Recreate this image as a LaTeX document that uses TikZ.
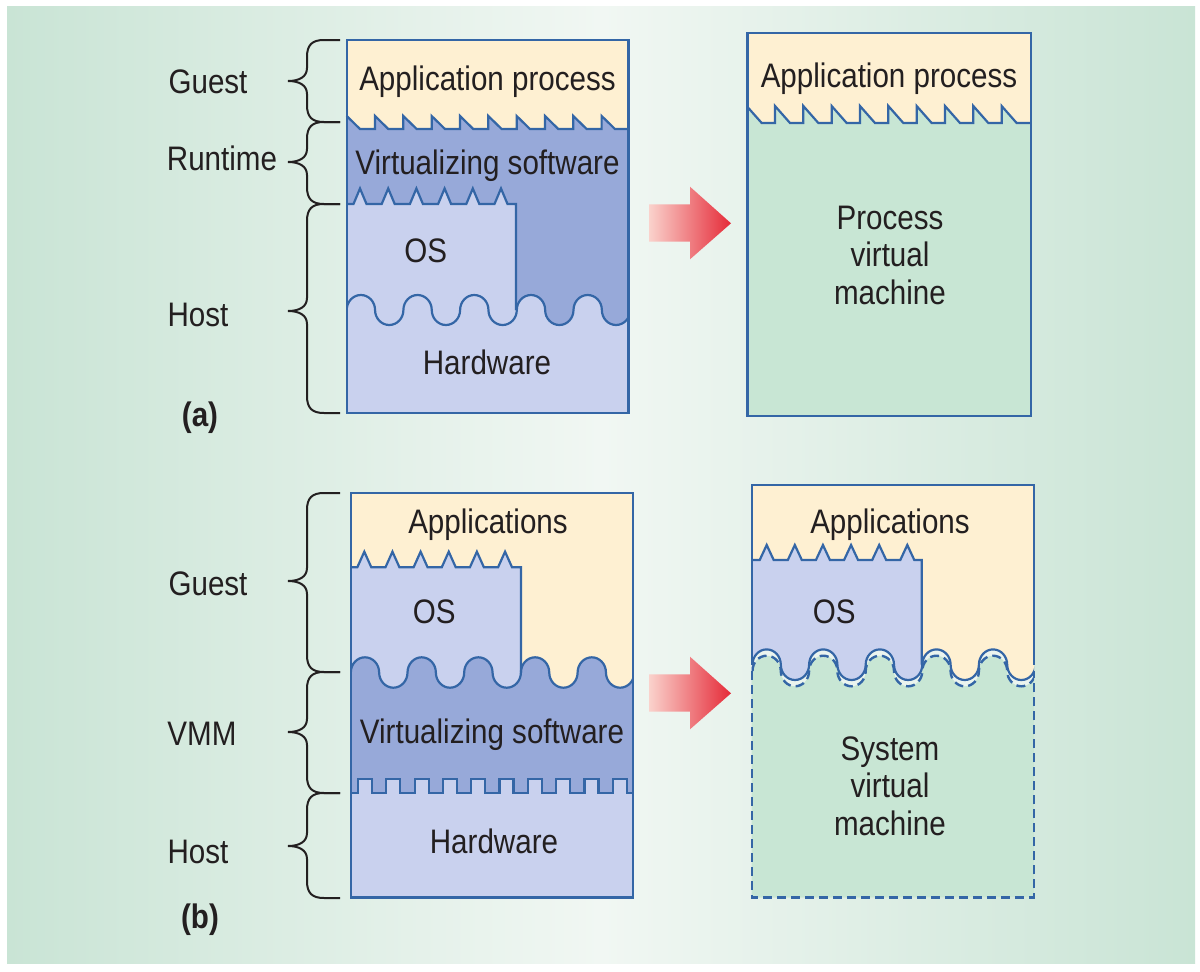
\documentclass[tikz,border=0pt]{standalone}
\usepackage{fontspec}
\setmainfont{Liberation Sans}[FakeStretch=0.87]
\definecolor{bgside}{HTML}{C9E4D5}
\definecolor{bgmid}{HTML}{F1F7F3}
\definecolor{appy}{HTML}{FEF0D2}
\definecolor{vdark}{HTML}{97A9D9}
\definecolor{vlight}{HTML}{C9D1EE}
\definecolor{vmgreen}{HTML}{C8E6D4}
\definecolor{edge}{HTML}{3466A6}
\definecolor{ink}{HTML}{231F20}
\definecolor{arrpink}{HTML}{FAD2CC}
\definecolor{arrred}{HTML}{E52A38}
\definecolor{gapc}{HTML}{EBF4EF}
% tooth helpers
\newcommand\zigteeth[5]{\foreach \k in {0,...,5}{ -- ({#1+#2*\k-#3},#4) -- ({#1+#2*\k},#5) -- ({#1+#2*\k+#3},#4) }}
\newcommand\sawteeth[6]{\foreach \k in {0,...,#6}{ -- ({#1+#2*\k},#4) -- ({#1+#2*\k},#5) -- ({#1+#2*\k+#3},#4) }}
\newcommand\sqteeth[6]{\foreach \k in {0,...,#6}{ -- ({#1+#2*\k},#4) -- ({#1+#2*\k},#5) -- ({#1+#2*\k+#3},#5) -- ({#1+#2*\k+#3},#4) }}
\newcommand\wavepath[5]{\foreach \k in {0,...,#5}{
 .. controls ({#1+4*#3*\k},{#2-0.5523*#4}) and ({#1+4*#3*\k+0.4477*#3},{#2-#4}) .. ({#1+4*#3*\k+#3},{#2-#4})
 .. controls ({#1+4*#3*\k+1.5523*#3},{#2-#4}) and ({#1+4*#3*\k+2*#3},{#2-0.5523*#4}) .. ({#1+4*#3*\k+2*#3},#2)
 .. controls ({#1+4*#3*\k+2*#3},{#2+0.5523*#4}) and ({#1+4*#3*\k+2.4477*#3},{#2+#4}) .. ({#1+4*#3*\k+3*#3},{#2+#4})
 .. controls ({#1+4*#3*\k+3.5523*#3},{#2+#4}) and ({#1+4*#3*\k+4*#3},{#2+0.5523*#4}) .. ({#1+4*#3*\k+4*#3},#2) }}
\newcommand\brc[3]{(340,#1) -- (324,#1) .. controls (312,#1) and (307,{#1+5}) .. (307,{#1+17}) -- (307,{#3-13}) .. controls (307,{#3-4}) and (299,#3) .. (288,#3) .. controls (299,#3) and (307,{#3+4}) .. (307,{#3+13}) -- (307,{#2-17}) .. controls (307,{#2-5}) and (312,#2) .. (324,#2) -- (340,#2)}
\begin{document}
\begin{tikzpicture}[x=1pt,y=-1pt,
  ln/.style={draw=edge,line width=2.2pt,line join=miter},
  dashln/.style={draw=edge,line width=2.4pt,dash pattern=on 9pt off 5pt},
  bracel/.style={draw=ink,line width=2pt},
  txt/.style={font=\fontsize{34}{40}\selectfont,text=ink,inner sep=0pt,anchor=base},
  lbl/.style={font=\bfseries\fontsize{34}{40}\selectfont,text=ink,inner sep=0pt,anchor=base},
  redarrow/.style={left color=arrpink,right color=arrred}]
\useasboundingbox (0,0) rectangle (1200,972);
\fill[white] (0,0) rectangle (1200,972);
\shade[left color=bgside,right color=bgside,middle color=bgmid] (7,6) rectangle (1195,963);

% ===== panel (a), left box =====
\begin{scope}
\clip (346.7,40) rectangle (628.5,413);
\fill[vdark] (346.7,40) rectangle (628.5,413);
\fill[vlight] (346.7,204) \zigteeth{360}{28.2}{6.5}{204}{188.5} -- (516,204) -- (516,340) -- (346.7,340) -- cycle;
\fill[vlight] (346.7,310) \wavepath{346.7}{310}{14.175}{15}{4} -- (631,413) -- (346.7,413) -- cycle;
\fill[appy] (346.7,40) -- (346.7,116) -- (360,129) \sawteeth{375}{28.33}{13.3}{129}{116}{8} -- (628.5,129) -- (628.5,40) -- cycle;
\draw[ln] (346.7,310) \wavepath{346.7}{310}{14.175}{15}{4};
\end{scope}
\draw[ln] (346.7,116) -- (360,129) \sawteeth{375}{28.33}{13.3}{129}{116}{8} -- (628.5,129);
\draw[ln] (346.7,204) \zigteeth{360}{28.2}{6.5}{204}{188.5} -- (516,204) -- (516,310);
\draw[ln] (346.7,40) rectangle (628.5,413);

% ===== panel (a), right box =====
\fill[vmgreen] (747.5,33) rectangle (1031,416);
\fill[appy] (747.5,33) -- (747.5,107) -- (761.7,123) \sawteeth{775}{28.33}{15}{123}{106}{8} -- (1031,123) -- (1031,33) -- cycle;
\draw[ln] (747.5,107) -- (761.7,123) \sawteeth{775}{28.33}{15}{123}{106}{8} -- (1031,123);
\draw[ln] (747.5,33) rectangle (1031,416);

% ===== panel (b), left box =====
\begin{scope}
\clip (350.8,493) rectangle (632.7,897.5);
\fill[appy] (350.8,493) rectangle (632.7,897.5);
\fill[vlight] (350.8,567.3) \zigteeth{364.3}{28.15}{7}{567.3}{551.7} -- (521,567.3) -- (521,700) -- (350.8,700) -- cycle;
\fill[vdark] (350.8,672.5) \wavepath{350.8}{672.5}{14.175}{15.2}{4} -- (635,897.5) -- (350.8,897.5) -- cycle;
\fill[vlight] (350.8,793) \sqteeth{358}{28.3}{14}{793}{779}{9} -- (632.7,793) -- (632.7,897.5) -- (350.8,897.5) -- cycle;
\draw[ln] (350.8,672.5) \wavepath{350.8}{672.5}{14.175}{15.2}{4};
\end{scope}
\draw[ln] (350.8,567.3) \zigteeth{364.3}{28.15}{7}{567.3}{551.7} -- (521,567.3) -- (521,672.5);
\draw[ln] (350.8,793) \sqteeth{358}{28.3}{14}{793}{779}{9} -- (632.7,793);
\draw[ln] (350.8,493) rectangle (632.7,897.5);

% ===== panel (b), right box =====
\begin{scope}
\clip (751.7,485) rectangle (1034,897.5);
\fill[appy] (751.7,485) rectangle (1034,897.5);
\fill[vlight] (751.7,560) \zigteeth{766.7}{28.12}{7}{560}{545} -- (921.7,560) -- (921.7,700) -- (751.7,700) -- cycle;
\fill[gapc] (752.5,664.7) \wavepath{752.5}{664.7}{14.15}{15.3}{4} -- (1037,897.5) -- (751.7,897.5) -- (751.7,664.7) -- cycle;
\fill[vmgreen] (752.5,671) \wavepath{752.5}{671}{14.15}{15.3}{4} -- (1037,897.5) -- (751.7,897.5) -- (751.7,671) -- cycle;
\draw[ln] (752.5,664.7) \wavepath{752.5}{664.7}{14.15}{15.3}{4};
\draw[dashln] (752.5,671) \wavepath{752.5}{671}{14.15}{15.3}{4};
\end{scope}
\draw[ln] (751.7,560) \zigteeth{766.7}{28.12}{7}{560}{545} -- (921.7,560) -- (921.7,664.7);
\draw[ln] (751.7,664.7) -- (751.7,485) -- (1034,485) -- (1034,664.7);
\draw[dashln] (751.7,671) -- (751.7,897.5) -- (1034,897.5) -- (1034,671);

% ===== arrows =====
\shade[redarrow] (649,204.3) -- (690,204.3) -- (690,186.7) -- (731,223.3) -- (690,259.3) -- (690,241.7) -- (649,241.7) -- cycle;
\shade[redarrow] (649,674.3) -- (690,674.3) -- (690,656.7) -- (731,693.3) -- (690,729.3) -- (690,711.7) -- (649,711.7) -- cycle;

% ===== braces =====
\draw[bracel] \brc{40}{122}{81};
\draw[bracel] \brc{122}{204}{162};
\draw[bracel] \brc{204}{413}{311};
\draw[bracel] \brc{493}{672}{581};
\draw[bracel] \brc{672}{793}{732};
\draw[bracel] \brc{793}{898}{846};

% ===== texts =====
\node[txt] (apA) at (487.5,90) {Application process};
\node[txt] (vsA) at (487.5,174) {Virtualizing software};
\node[txt] (osA) at (425.7,262.7) {OS};
\node[txt] (hwA) at (487,374) {Hardware};
\node[txt] (apA2) at (889,87) {Application process};
\node[txt] (pvm1) at (890,229) {Process};
\node[txt] (pvm2) at (890,266.5) {virtual};
\node[txt] (pvm3) at (890,304) {machine};
\node[txt] (apB) at (488,533) {Applications};
\node[txt] (osB) at (434.3,623.3) {OS};
\node[txt] (vsB) at (492,743) {Virtualizing software};
\node[txt] (hwB) at (494,853) {Hardware};
\node[txt] (apB2) at (890,533) {Applications};
\node[txt] (osB2) at (834.3,623.3) {OS};
\node[txt] (svm1) at (890,760) {System};
\node[txt] (svm2) at (890,797.5) {virtual};
\node[txt] (svm3) at (890,835) {machine};
\node[txt] (guestA) at (208,93) {Guest};
\node[txt] (runA) at (222,170) {Runtime};
\node[txt] (hostA) at (198,326) {Host};
\node[lbl] (labA) at (200,426) {(a)};
\node[txt] (guestB) at (208,595) {Guest};
\node[txt] (vmmB) at (202,745) {VMM};
\node[txt] (hostB) at (198,863) {Host};
\node[lbl] (labB) at (200,928) {(b)};
\end{tikzpicture}
\end{document}
